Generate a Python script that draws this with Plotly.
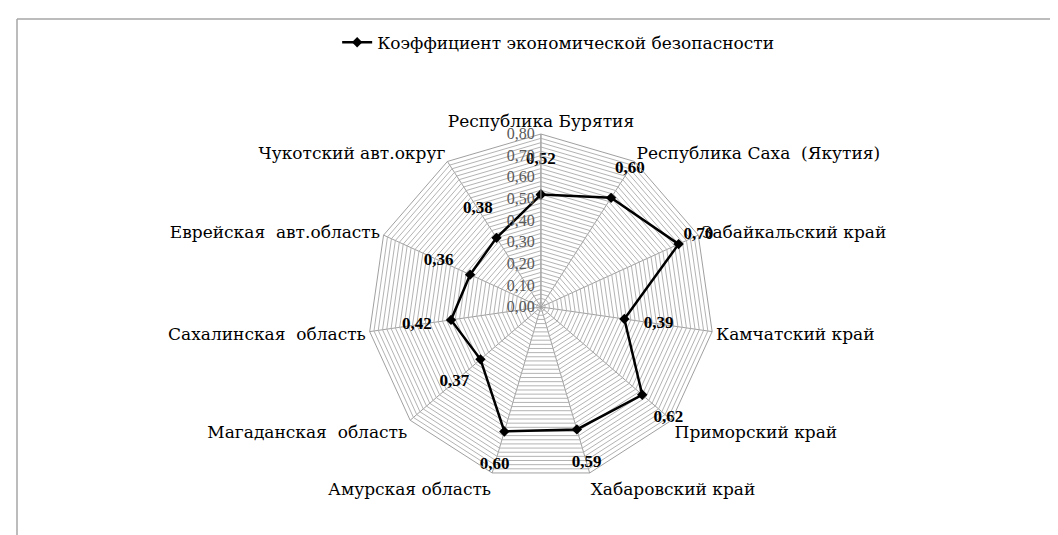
import plotly.graph_objects as go

# ---- data ----
categories = [
    "Республика Бурятия",
    "Республика Саха  (Якутия)",
    "Забайкальский край",
    "Камчатский край",
    "Приморский край",
    "Хабаровский край",
    "Амурская область",
    "Магаданская  область",
    "Сахалинская  область",
    "Еврейская  авт.область",
    "Чукотский авт.округ",
]
values = [0.52, 0.60, 0.70, 0.39, 0.62, 0.59, 0.60, 0.37, 0.42, 0.36, 0.38]
series_name = "Коэффициент экономической безопасности"
radial_max = 0.8
grid_step = 0.02
label_step = 0.1

# ---- styling ----
FONT = "DejaVu Serif"
NUM_FONT = "Liberation Serif, DejaVu Serif, serif"
LABEL_OFFSET = 0.16

def fmt(v):
    return f"{v:.2f}".replace(".", ",")

n_grid = int(round(radial_max / grid_step))
grid_vals = [round(i * grid_step, 2) for i in range(n_grid + 1)]
grid_text = [fmt(v) if abs(v / label_step - round(v / label_step)) < 1e-6 else "" for v in grid_vals]

fig = go.Figure()

fig.add_trace(go.Scatterpolar(
    r=values + values[:1],
    theta=categories + categories[:1],
    mode="lines+markers",
    name=series_name,
    line=dict(color="black", width=2.5),
    marker=dict(symbol="diamond", size=8, color="black"),
    hoverinfo="skip",
))

fig.add_trace(go.Scatterpolar(
    r=[min(v + LABEL_OFFSET, radial_max) for v in values],
    theta=categories,
    mode="text",
    text=[fmt(v) for v in values],
    textfont=dict(family=NUM_FONT, size=17, color="black", weight="bold"),
    cliponaxis=False,
    showlegend=False,
    hoverinfo="skip",
))

fig.update_layout(
    width=1058,
    height=535,
    margin=dict(l=0, r=0, t=0, b=0),
    paper_bgcolor="white",
    plot_bgcolor="white",
    font=dict(family=FONT, size=17, color="black"),
    separators=", ",
    showlegend=True,
    legend=dict(
        orientation="h",
        x=0.52, xanchor="center",
        y=0.935, yanchor="middle",
        font=dict(family=FONT, size=17, color="black"),
        bgcolor="rgba(0,0,0,0)",
    ),
    polar=dict(
        domain=dict(x=[0.3402, 0.6672], y=[0.1178, 0.7645]),
        bgcolor="white",
        gridshape="linear",
        radialaxis=dict(
            range=[0, radial_max],
            tickvals=grid_vals,
            ticktext=grid_text,
            angle=90,
            tickangle=90,
            side="counterclockwise",
            showline=True,
            linecolor="#a0a0a0",
            linewidth=1,
            gridcolor="#b3b3b3",
            gridwidth=0.7,
            ticks="",
            tickfont=dict(family=NUM_FONT, size=16, color="#595959"),
        ),
        angularaxis=dict(
            direction="clockwise",
            rotation=90,
            showline=True,
            linecolor="#a0a0a0",
            linewidth=1,
            gridcolor="#a0a0a0",
            gridwidth=1,
            ticks="",
            tickfont=dict(family=FONT, size=17, color="black"),
        ),
    ),
    shapes=[
        dict(type="line", xref="paper", yref="paper",
             x0=9 / 1058, x1=1.0, y0=1 - 11 / 535, y1=1 - 11 / 535,
             line=dict(color="#a6a6a6", width=1.5)),
        dict(type="line", xref="paper", yref="paper",
             x0=9 / 1058, x1=9 / 1058, y0=0.0, y1=1 - 11 / 535,
             line=dict(color="#a6a6a6", width=1.5)),
    ],
)

fig.write_html("out.html")
